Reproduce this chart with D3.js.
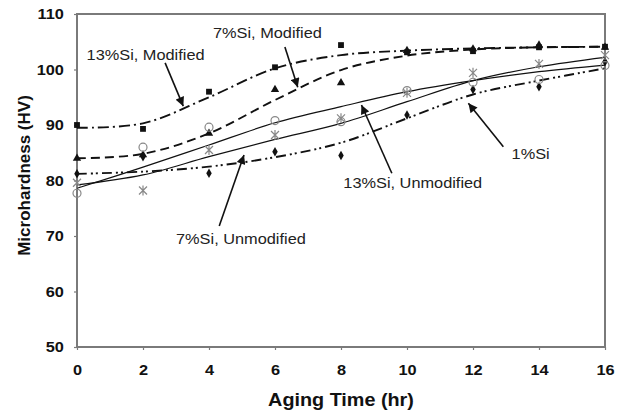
<!DOCTYPE html>
<html>
<head>
<meta charset="utf-8">
<script src="https://cdn.jsdelivr.net/npm/d3@7"></script>
<style>
  body { margin: 0; background: #fff; }
  text { font-family: "Liberation Sans", Arial, sans-serif; }
</style>
</head>
<body>
<svg id="chart" width="618" height="414"></svg>
<script>
// aging time (hr)
var hours = [0, 2, 4, 6, 8, 10, 12, 14, 16];

// measured microhardness (HV)
var si13Mod   = [90, 89.3, 96, 100.4, 104.4, 103.1, 103.3, 104, 104.1];
var si7Mod    = [84, 84.6, 88.5, 96.4, 97.6, 103.4, 103.7, 104.4, 104];
var si1       = [81.2, 84.3, 81.3, 85.2, 84.5, 91.8, 96.4, 96.9, 101.4];
var si13Unmod = [77.7, 86, 89.6, 90.8, 90.6, 96.2, 97.7, 98.2, 100.7];
var si7Unmod  = [79.6, 78.2, 85.5, 88.2, 91.2, 95.8, 99.4, 101, 102.6];

// trend curves
var fit13Mod   = [89.5, 90.3, 95, 100.2, 102.6, 103.4, 103.8, 104, 104.1];
var fit7Mod    = [84, 84.8, 88.5, 94.5, 99.9, 102.5, 103.6, 104, 104.1];
var fit1       = [81.2, 81.6, 82.5, 84.2, 86.8, 91.2, 95.5, 98, 100.2];
var fit13Unmod = [78.6, 82.4, 86.4, 90.4, 93.3, 96, 98, 99.6, 100.8];
var fit7Unmod  = [79.2, 81, 84.3, 87.4, 90.3, 94.2, 98, 100.5, 102.2];

var xTicks = [0, 2, 4, 6, 8, 10, 12, 14, 16];
var yTicks = [50, 60, 70, 80, 90, 100, 110];

// annotation labels: text position and arrow (in data units)
var noteLabels = ['13%Si, Modified', '7%Si, Modified', '7%Si, Unmodified', '13%Si, Unmodified', '1%Si'];
var noteText   = [[0.29, 101.7], [4.12, 105.6], [3.0, 68.6], [8.07, 78.6], [13.17, 83.8]];
var noteFrom   = [[2.67, 101.2], [6.3, 104.05], [4.31, 71.8], [9.54, 81.3], [12.92, 86.1]];
var noteTo     = [[3.22, 93.4], [6.69, 96.8], [5.06, 84.6], [8.62, 93.6], [11.86, 93.9]];

var margin = {top: 14, right: 13, bottom: 67, left: 77};
var width = 618 - margin.left - margin.right;
var height = 414 - margin.top - margin.bottom;

var svg = d3.select('#chart');
var g = svg.append('g')
  .attr('transform', 'translate(' + margin.left + ',' + margin.top + ')');

var x = d3.scaleLinear().domain([0, 16]).range([0, width]);
var y = d3.scaleLinear().domain([50, 110]).range([height, 0]);

var axisColor = '#7a7a7a';

// x axis
var xAxis = g.append('g')
  .attr('transform', 'translate(0,' + height + ')')
  .call(d3.axisBottom(x).tickValues(xTicks).tickSize(3).tickPadding(14));
xAxis.selectAll('text')
  .attr('font-size', 15).attr('font-weight', 'bold').attr('fill', '#111')
  .attr('transform', 'scale(1.09,1)');

// y axis
var yAxis = g.append('g')
  .call(d3.axisLeft(y).tickValues(yTicks).tickSize(3).tickPadding(9));
yAxis.selectAll('text')
  .attr('font-size', 15).attr('font-weight', 'bold').attr('fill', '#111')
  .attr('transform', 'scale(1.09,1)');

[xAxis, yAxis].forEach(function(a) {
  a.select('.domain').remove();
  a.selectAll('.tick line').attr('stroke', axisColor).attr('stroke-width', 1.2);
});

// plot frame
g.append('rect')
  .attr('x', 0).attr('y', 0)
  .attr('width', width).attr('height', height)
  .attr('fill', 'none')
  .attr('stroke', axisColor)
  .attr('stroke-width', 2);

// axis titles
svg.append('text')
  .attr('transform', 'translate(' + (margin.left + width / 2) + ',406) scale(1.1,1)')
  .attr('text-anchor', 'middle')
  .attr('font-size', 18).attr('font-weight', 'bold').attr('fill', '#111')
  .text('Aging Time (hr)');

svg.append('text')
  .attr('transform', 'translate(30,' + (margin.top + height / 2 - 5) + ') rotate(-90)')
  .attr('text-anchor', 'middle')
  .attr('font-size', 17).attr('font-weight', 'bold').attr('fill', '#111')
  .text('Microhardness (HV)');

// series
var series = [
  {points: si13Mod,   fit: fit13Mod,   dash: '11,4,2,4',      width: 1.9, marker: 'square'},
  {points: si7Mod,    fit: fit7Mod,    dash: '9,5',           width: 1.9, marker: 'triangle'},
  {points: si1,       fit: fit1,       dash: '10,4,2,3,2,4',  width: 1.9, marker: 'diamond'},
  {points: si13Unmod, fit: fit13Unmod, dash: null,            width: 1.2, marker: 'circle'},
  {points: si7Unmod,  fit: fit7Unmod,  dash: null,            width: 1.2, marker: 'star'}
];

var line = d3.line()
  .x(function(d, i) { return x(hours[i]); })
  .y(function(d) { return y(d); })
  .curve(d3.curveCatmullRom.alpha(0.5));

g.selectAll('.fit')
  .data(series)
  .enter().append('path')
    .attr('class', 'fit')
    .attr('d', function(s) { return line(s.fit); })
    .attr('fill', 'none')
    .attr('stroke', '#111')
    .attr('stroke-width', function(s) { return s.width; })
    .attr('stroke-dasharray', function(s) { return s.dash; });

var symbols = {
  square: d3.symbol().type(d3.symbolSquare).size(34),
  triangle: d3.symbol().type(d3.symbolTriangle).size(30),
  diamond: d3.symbol().type(d3.symbolDiamond).size(26)
};

series.forEach(function(s) {
  var pts = g.append('g').selectAll('.pt')
    .data(s.points)
    .enter();
  if (s.marker === 'circle') {
    pts.append('circle')
      .attr('cx', function(d, i) { return x(hours[i]); })
      .attr('cy', function(d) { return y(d); })
      .attr('r', 4)
      .attr('fill', 'none')
      .attr('stroke', '#888')
      .attr('stroke-width', 1.2);
  } else if (s.marker === 'star') {
    pts.append('path')
      .attr('transform', function(d, i) { return 'translate(' + x(hours[i]) + ',' + y(d) + ')'; })
      .attr('d', 'M-4,-4L4,4M-4,4L4,-4M0,-5L0,5')
      .attr('fill', 'none')
      .attr('stroke', '#888')
      .attr('stroke-width', 1.2);
  } else {
    pts.append('path')
      .attr('transform', function(d, i) { return 'translate(' + x(hours[i]) + ',' + y(d) + ')'; })
      .attr('d', symbols[s.marker])
      .attr('fill', '#111');
  }
});

// arrowhead
svg.append('defs').append('marker')
  .attr('id', 'head')
  .attr('viewBox', '0 0 10 10')
  .attr('refX', 10).attr('refY', 5)
  .attr('markerUnits', 'userSpaceOnUse')
  .attr('markerWidth', 11).attr('markerHeight', 9)
  .attr('orient', 'auto')
  .append('path')
    .attr('d', 'M0,0L10,5L0,10Z')
    .attr('fill', '#111');

noteLabels.forEach(function(label, i) {
  g.append('text')
    .attr('transform', 'translate(' + x(noteText[i][0]) + ',' + y(noteText[i][1]) + ') scale(1.09,1)')
    .attr('font-size', 15)
    .attr('fill', '#222')
    .text(label);

  g.append('line')
    .attr('x1', x(noteFrom[i][0])).attr('y1', y(noteFrom[i][1]))
    .attr('x2', x(noteTo[i][0])).attr('y2', y(noteTo[i][1]))
    .attr('stroke', '#111')
    .attr('stroke-width', 1.6)
    .attr('marker-end', 'url(#head)');
});
</script>
</body>
</html>
